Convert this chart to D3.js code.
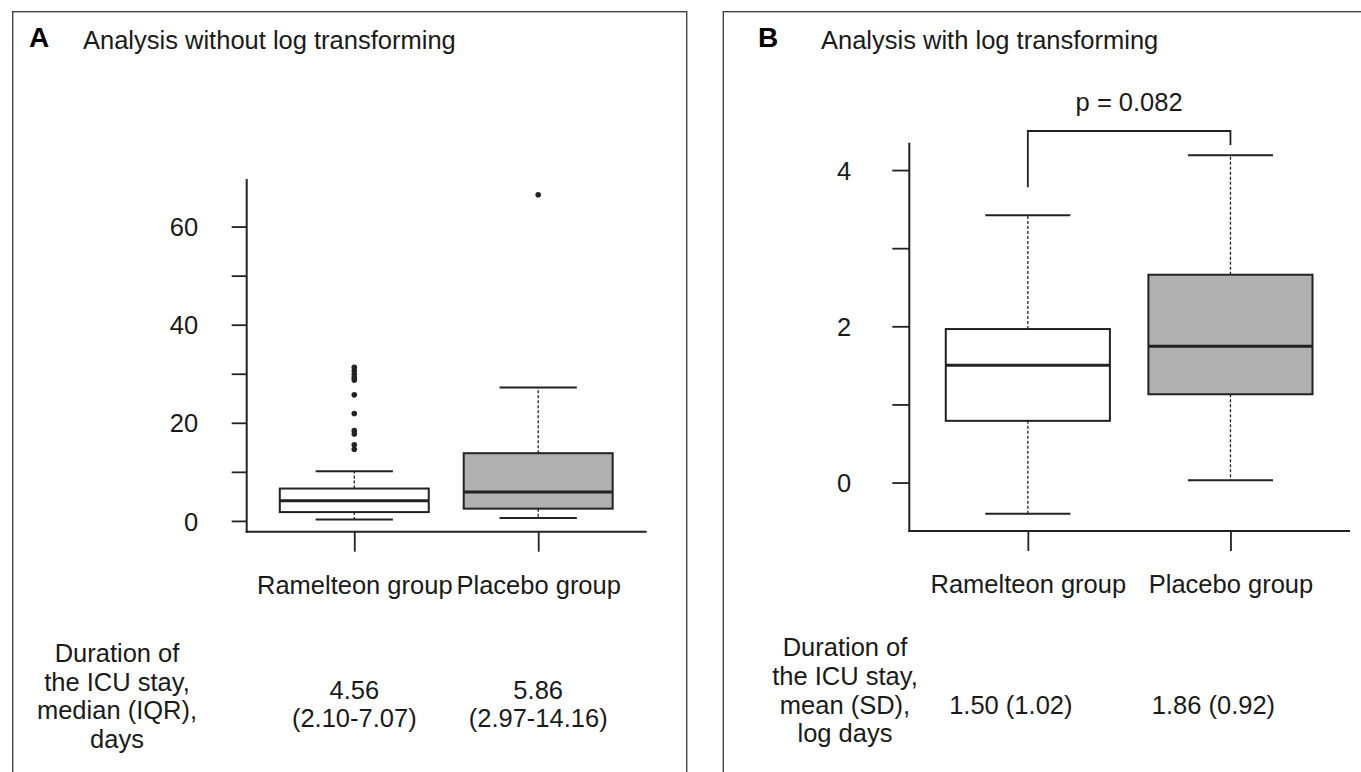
<!DOCTYPE html>
<html>
<head>
<meta charset="utf-8">
<title>Duration of the ICU stay</title>
<script src="https://d3js.org/d3.v7.min.js"></script>
<style>
  body { margin: 0; background: #fff; }
  svg { display: block; font-family: "Liberation Sans", Arial, Helvetica, sans-serif; }
  .axis path { display: none; }
  .axis line { stroke: #222; stroke-width: 1.8; }
  .axis text { fill: #1a1a1a; font-size: 25.5px; }
  .axisline { stroke: #222; stroke-width: 2; }
  .frame { fill: none; stroke: #444; stroke-width: 1.4; }
  .whisker { stroke: #222; stroke-width: 1.3; stroke-dasharray: 3,2; }
  .cap { stroke: #222; stroke-width: 2; }
  .box { stroke: #222; stroke-width: 2; }
  .median { stroke: #222; stroke-width: 3; }
  .outlier { fill: #222; }
  .txt { fill: #1a1a1a; font-size: 25.5px; }
</style>
</head>
<body>
<svg width="1361" height="772"></svg>
<script>
var groups = ["Ramelteon group", "Placebo group"];
var boxFill = ["#ffffff", "#b0b0b0"];

// A: days, no transform
var rawLow = [0.3, 0.6],
  rawQ1 = [1.8, 2.5],
  rawMedian = [4.1, 5.9],
  rawQ3 = [6.6, 13.8],
  rawHigh = [10.1, 27.2];
var rawOutliers = [
  [31.3, 30.6, 29.9, 29.2, 28.7, 25.7, 21.9, 18.4, 17.7, 15.5, 14.6],
  [66.5]
];
var rawTicks = [0, 10, 20, 30, 40, 50, 60],
  rawLabelled = [0, 20, 40, 60];
var rawRowLabel = ["Duration of", "the ICU stay,", "median (IQR),", "days"];
var rawSummary = [["4.56", "(2.10-7.07)"], ["5.86", "(2.97-14.16)"]];

// B: log days
var logLow = [-0.40, 0.03],
  logQ1 = [0.79, 1.13],
  logMedian = [1.50, 1.745],
  logQ3 = [1.965, 2.66],
  logHigh = [3.42, 4.19];
var logTicks = [0, 1, 2, 3, 4],
  logLabelled = [0, 2, 4];
var logRowLabel = ["Duration of", "the ICU stay,", "mean (SD),", "log days"];
var logSummary = [["1.50 (1.02)"], ["1.86 (0.92)"]];
var pText = "p = 0.082";
var bracketTop = 4.50,
  bracketEnds = [3.78, 4.32];

var svg = d3.select("svg");

// panel frames (bottom edge runs off the picture)
svg.append("rect").attr("class", "frame")
  .attr("x", 12.7).attr("y", 11.7).attr("width", 674).attr("height", 800);
svg.append("rect").attr("class", "frame")
  .attr("x", 723.3).attr("y", 11.7).attr("width", 700).attr("height", 800);

function drawPanel(p) {
  var g = svg.append("g");
  var x = d3.scaleLinear().domain([0.415, 2.59]).range(p.xRange);
  var y = d3.scaleLinear().domain(p.yDomain).range(p.yRange);
  var unit = x(1) - x(0);

  g.append("text").attr("x", p.letterX).attr("y", 46.5)
    .style("font-size", "28px").style("font-weight", "bold").text(p.letter);
  g.append("text").attr("class", "txt").attr("x", p.titleX).attr("y", 48.5).text(p.title);

  // y axis
  var ya = g.append("g").attr("class", "axis")
    .attr("transform", "translate(" + p.xRange[0] + ",0)")
    .call(d3.axisLeft(y).tickValues(p.ticks).tickSize(p.ySize).tickPadding(p.yPad)
      .tickFormat(function(d) { return p.labelled.indexOf(d) >= 0 ? d : ""; }));
  ya.selectAll("text").attr("dy", "0.36em");
  g.append("line").attr("class", "axisline")
    .attr("x1", p.xRange[0]).attr("x2", p.xRange[0])
    .attr("y1", p.yRange[1]).attr("y2", p.yRange[0] + 1);

  // x axis
  g.append("g").attr("class", "axis")
    .attr("transform", "translate(0," + p.yRange[0] + ")")
    .call(d3.axisBottom(x).tickValues([1, 2]).tickSize(20).tickPadding(24)
      .tickFormat(function(d) { return groups[d - 1]; }));
  g.append("line").attr("class", "axisline")
    .attr("x1", p.xRange[0] - 1).attr("x2", p.xRange[1])
    .attr("y1", p.yRange[0]).attr("y2", p.yRange[0]);

  var bw = 0.81 * unit, cw = 0.42 * unit;
  groups.forEach(function(name, i) {
    var cx = x(i + 1);
    g.append("line").attr("class", "whisker")
      .attr("x1", cx).attr("x2", cx).attr("y1", y(p.q3[i])).attr("y2", y(p.high[i]));
    g.append("line").attr("class", "whisker")
      .attr("x1", cx).attr("x2", cx).attr("y1", y(p.q1[i])).attr("y2", y(p.low[i]));
    [p.high[i], p.low[i]].forEach(function(v) {
      g.append("line").attr("class", "cap")
        .attr("x1", cx - cw / 2).attr("x2", cx + cw / 2).attr("y1", y(v)).attr("y2", y(v));
    });
    g.append("rect").attr("class", "box").attr("fill", boxFill[i])
      .attr("x", cx - bw / 2).attr("width", bw)
      .attr("y", y(p.q3[i])).attr("height", y(p.q1[i]) - y(p.q3[i]));
    g.append("line").attr("class", "median")
      .attr("x1", cx - bw / 2).attr("x2", cx + bw / 2)
      .attr("y1", y(p.median[i])).attr("y2", y(p.median[i]));
    if (p.outliers) {
      g.selectAll(null).data(p.outliers[i]).enter().append("circle")
        .attr("class", "outlier").attr("cx", cx).attr("cy", function(d) { return y(d); })
        .attr("r", 2.8);
    }
    // summary numbers under each group
    g.append("text").attr("class", "txt").attr("text-anchor", "middle")
      .selectAll("tspan").data(p.summary[i]).enter().append("tspan")
      .attr("x", cx + p.sumDx).attr("y", function(d, k) { return p.sumY + k * 28.5; })
      .text(function(d) { return d; });
  });

  g.append("text").attr("class", "txt").attr("text-anchor", "middle")
    .selectAll("tspan").data(p.rowLabel).enter().append("tspan")
    .attr("x", p.rowX).attr("y", function(d, k) { return p.rowY + k * 28.8; })
    .text(function(d) { return d; });

  if (p.bracket) {
    var bx = [x(1), x(2)];
    g.append("path").attr("fill", "none").attr("stroke", "#222").attr("stroke-width", 1.8)
      .attr("d", d3.line()([[bx[0], y(p.bracket.ends[0])], [bx[0], y(p.bracket.top)],
        [bx[1], y(p.bracket.top)], [bx[1], y(p.bracket.ends[1])]]));
    g.append("text").attr("class", "txt").attr("text-anchor", "middle")
      .attr("x", (bx[0] + bx[1]) / 2).attr("y", y(p.bracket.top) - 20).text(p.bracket.label);
  }
}

drawPanel({
  letter: "A", letterX: 29, title: "Analysis without log transforming", titleX: 83,
  xRange: [246.7, 646.7], yRange: [531.7, 179], yDomain: [-2.2, 69.7],
  ticks: rawTicks, labelled: rawLabelled, ySize: 15, yPad: 33.5,
  low: rawLow, q1: rawQ1, median: rawMedian, q3: rawQ3, high: rawHigh, outliers: rawOutliers,
  summary: rawSummary, sumDx: 0, sumY: 698.5,
  rowLabel: rawRowLabel, rowX: 117, rowY: 661.7
});

drawPanel({
  letter: "B", letterX: 758, title: "Analysis with log transforming", titleX: 821,
  xRange: [909.3, 1350], yRange: [531, 142.7], yDomain: [-0.62, 4.35],
  ticks: logTicks, labelled: logLabelled, ySize: 17, yPad: 41,
  low: logLow, q1: logQ1, median: logMedian, q3: logQ3, high: logHigh,
  summary: logSummary, sumDx: -17, sumY: 714,
  rowLabel: logRowLabel, rowX: 845, rowY: 656,
  bracket: { top: bracketTop, ends: bracketEnds, label: pText }
});
</script>
</body>
</html>
